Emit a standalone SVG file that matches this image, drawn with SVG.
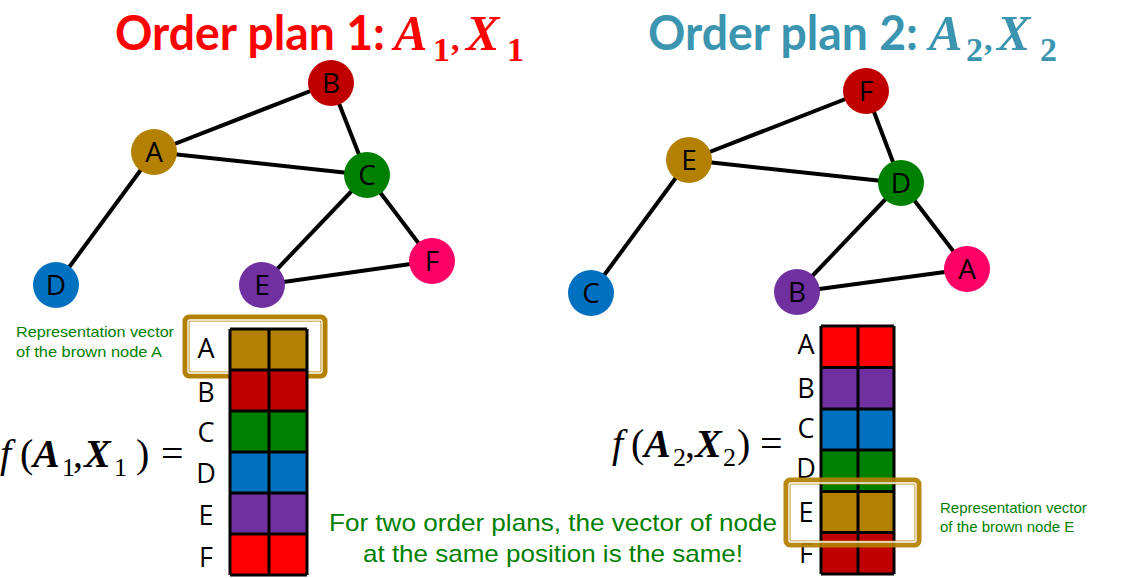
<svg xmlns="http://www.w3.org/2000/svg" width="1133" height="578" viewBox="0 0 1133 578">
<style>
.edge{stroke:#000;stroke-width:4;fill:none}
.nl{font-family:"Open Sans","DejaVu Sans",sans-serif;font-size:28px;fill:#000;text-anchor:middle}
.ml{font-family:"Open Sans","DejaVu Sans",sans-serif;font-size:27px;fill:#000;text-anchor:middle}
.grid{stroke:#000;stroke-width:3;fill:none}
.gt{font-family:"Liberation Sans",Arial,sans-serif;fill:#008000}
.ttl{font-family:Lato,"Open Sans",sans-serif;font-weight:bold;font-size:48px}
.tm{font-family:"Liberation Serif","DejaVu Serif",serif;font-style:italic;font-weight:bold;font-size:50px}
.ts{font-family:"Liberation Serif","DejaVu Serif",serif;font-weight:bold;font-size:34px}
.fm{font-family:"Liberation Serif","DejaVu Serif",serif;font-size:40px;fill:#000}
.fi{font-style:italic}
.fb{font-style:italic;font-weight:bold}
.fs{font-size:26px}
.hb{fill:none;stroke:#B38000;stroke-width:7}
.hw{fill:none;stroke:#fff;stroke-width:1.3}
</style>
<rect width="1133" height="578" fill="#fff"/>

<!-- Titles -->
<g id="title1" fill="#FF0000">
<text class="ttl" x="115" y="50" textLength="270" lengthAdjust="spacingAndGlyphs">Order plan 1:</text>
<text class="tm" x="394" y="50">A</text>
<text class="ts" x="433" y="61">1</text>
<text class="ts" x="451" y="50">,</text>
<text class="tm" x="466" y="50">X</text>
<text class="ts" x="507" y="61">1</text>
</g>
<g id="title2" fill="#3B95B0">
<text class="ttl" x="648" y="50" textLength="270" lengthAdjust="spacingAndGlyphs">Order plan 2:</text>
<text class="tm" x="929" y="50">A</text>
<text class="ts" x="966" y="61">2</text>
<text class="ts" x="984" y="50">,</text>
<text class="tm" x="997" y="50">X</text>
<text class="ts" x="1040" y="61">2</text>
</g>

<!-- Connectors -->
<g id="connectors">
<line class="edge" x1="154" y1="152" x2="331" y2="83"/>
<line class="edge" x1="154" y1="152" x2="367" y2="175"/>
<line class="edge" x1="154" y1="152" x2="56" y2="285"/>
<line class="edge" x1="331" y1="83" x2="367" y2="175"/>
<line class="edge" x1="367" y1="175" x2="262" y2="285"/>
<line class="edge" x1="367" y1="175" x2="432" y2="261"/>
<line class="edge" x1="262" y1="285" x2="432" y2="261"/>

<line class="edge" x1="689" y1="160" x2="866" y2="91"/>
<line class="edge" x1="689" y1="160" x2="901" y2="183"/>
<line class="edge" x1="689" y1="160" x2="591" y2="293"/>
<line class="edge" x1="866" y1="91" x2="901" y2="183"/>
<line class="edge" x1="901" y1="183" x2="797" y2="292"/>
<line class="edge" x1="901" y1="183" x2="967" y2="269"/>
<line class="edge" x1="797" y1="292" x2="967" y2="269"/>
</g>

<!-- Graph 1 nodes -->
<g id="g1-A"><circle cx="154" cy="152" r="23" fill="#B38000"/><text class="nl" x="154" y="162">A</text></g>
<g id="g1-B"><circle cx="331" cy="83" r="23" fill="#C00000"/><text class="nl" x="331" y="93">B</text></g>
<g id="g1-C"><circle cx="367" cy="175" r="23" fill="#008000"/><text class="nl" x="367" y="185">C</text></g>
<g id="g1-D"><circle cx="56" cy="285" r="23" fill="#0070C0"/><text class="nl" x="56" y="295">D</text></g>
<g id="g1-E"><circle cx="262" cy="285" r="23" fill="#7030A0"/><text class="nl" x="262" y="295">E</text></g>
<g id="g1-F"><circle cx="432" cy="261" r="23" fill="#FF0066"/><text class="nl" x="432" y="271">F</text></g>

<!-- Graph 2 nodes -->
<g id="g2-E"><circle cx="689" cy="160" r="23" fill="#B38000"/><text class="nl" x="689" y="170">E</text></g>
<g id="g2-F"><circle cx="866" cy="91" r="23" fill="#C00000"/><text class="nl" x="866" y="101">F</text></g>
<g id="g2-D"><circle cx="901" cy="183" r="23" fill="#008000"/><text class="nl" x="901" y="193">D</text></g>
<g id="g2-C"><circle cx="591" cy="293" r="23" fill="#0070C0"/><text class="nl" x="591" y="303">C</text></g>
<g id="g2-B"><circle cx="797" cy="292" r="23" fill="#7030A0"/><text class="nl" x="797" y="302">B</text></g>
<g id="g2-A"><circle cx="967" cy="269" r="23" fill="#FF0066"/><text class="nl" x="967" y="279">A</text></g>

<!-- Left highlight box (under matrix) -->
<g id="highlight1">
<rect class="hb" x="186" y="318" width="138" height="57" rx="3"/>
<rect class="hw" x="188" y="320" width="134" height="53" rx="2"/>
</g>

<!-- Left matrix -->
<g id="matrix1">
<rect x="230" y="329" width="77" height="41" fill="#B38000"/>
<rect x="230" y="370" width="77" height="41" fill="#C00000"/>
<rect x="230" y="411" width="77" height="41" fill="#008000"/>
<rect x="230" y="452" width="77" height="41" fill="#0070C0"/>
<rect x="230" y="493" width="77" height="41" fill="#7030A0"/>
<rect x="230" y="534" width="77" height="41" fill="#FF0000"/>
<path class="grid" d="M230 329V575M269 329V575M307 329V575M230 329H307M230 370H307M230 411H307M230 452H307M230 493H307M230 534H307M230 575H307"/>
<text class="ml" x="206" y="358" font-size="29">A</text>
<text class="ml" x="206" y="402">B</text>
<text class="ml" x="206" y="442">C</text>
<text class="ml" x="206" y="483">D</text>
<text class="ml" x="206" y="525">E</text>
<text class="ml" x="206" y="567">F</text>
</g>

<!-- Right matrix -->
<g id="matrix2">
<rect x="821" y="326" width="73" height="41.5" fill="#FF0000"/>
<rect x="821" y="367.5" width="73" height="41.5" fill="#7030A0"/>
<rect x="821" y="409" width="73" height="41" fill="#0070C0"/>
<rect x="821" y="450" width="73" height="41.5" fill="#008000"/>
<rect x="821" y="491.5" width="73" height="41" fill="#B38000"/>
<rect x="821" y="532.5" width="73" height="41.5" fill="#C00000"/>
<path class="grid" d="M821 326V574M858 326V574M894 326V574M821 326H894M821 367.5H894M821 409H894M821 450H894M821 491.5H894M821 532.5H894M821 574H894"/>
<text class="ml" x="806" y="354">A</text>
<text class="ml" x="806" y="398">B</text>
<text class="ml" x="806" y="438">C</text>
<text class="ml" x="806" y="478">D</text>
<text class="ml" x="806" y="522">E</text>
<text class="ml" x="806" y="563">F</text>
</g>

<!-- Right highlight box (over matrix) -->
<g id="highlight2" opacity="0.92">
<rect class="hb" x="787" y="481" width="131" height="63" rx="3"/>
<rect class="hw" x="789" y="483" width="127" height="59" rx="2"/>
</g>

<!-- Annotations -->
<g id="note1">
<text class="gt" x="16" y="337" font-size="15" textLength="158" lengthAdjust="spacingAndGlyphs">Representation vector</text>
<text class="gt" x="16" y="357" font-size="15" textLength="146" lengthAdjust="spacingAndGlyphs">of the brown node A</text>
</g>
<g id="note2">
<text class="gt" x="940" y="513" font-size="15">Representation vector</text>
<text class="gt" x="940" y="532" font-size="15">of the brown node E</text>
</g>
<g id="note3">
<text class="gt" x="329" y="531" font-size="24" textLength="448" lengthAdjust="spacingAndGlyphs">For two order plans, the vector of node</text>
<text class="gt" x="363" y="562" font-size="24" textLength="380" lengthAdjust="spacingAndGlyphs">at the same position is the same!</text>
</g>

<!-- Formulas -->
<g id="formula1" class="fm">
<text x="0" y="467" class="fi">f</text>
<text x="20" y="467">(</text>
<text x="33" y="467" class="fb">A</text>
<text x="62" y="476" class="fs">1</text>
<text x="73" y="467">,</text>
<text x="84" y="467" class="fb">X</text>
<text x="114" y="476" class="fs">1</text>
<text x="136" y="467">)</text>
<text x="161" y="467">=</text>
</g>
<g id="formula2" class="fm">
<text x="612" y="457" class="fi">f</text>
<text x="631" y="457">(</text>
<text x="644" y="457" class="fb">A</text>
<text x="673" y="466" class="fs">2</text>
<text x="685" y="457">,</text>
<text x="695" y="457" class="fb">X</text>
<text x="723" y="466" class="fs">2</text>
<text x="737" y="457">)</text>
<text x="760" y="457">=</text>
</g>
</svg>
